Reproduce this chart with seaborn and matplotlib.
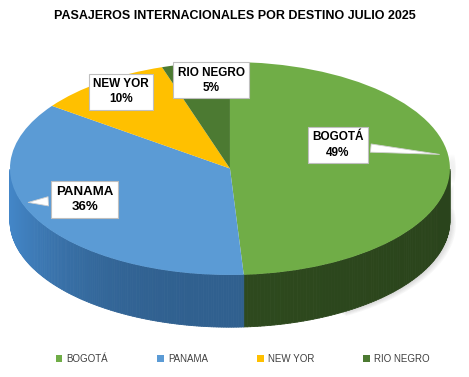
import numpy as np
import matplotlib
matplotlib.use("Agg")
import matplotlib.pyplot as plt
import seaborn as sns
from matplotlib.collections import PolyCollection
from matplotlib.patches import Patch

# data
destinos = ['BOGOTÁ', 'PANAMA', 'NEW YOR', 'RIO NEGRO']
porcentajes = [49, 36, 10, 5]
colores = ['#70AD47', '#5B9BD5', '#FFC000', '#4C7A32']
colores_lado = ['#2E4A1E', '#30608F', '#B38600', '#2C4A1C']
titulo = 'PASAJEROS INTERNACIONALES POR DESTINO JULIO 2025'

sns.set_theme(style='white')
plt.rcParams['font.family'] = ['Liberation Sans', 'DejaVu Sans']

fig = plt.figure(figsize=(4.69, 3.77), dpi=100)
# axes box = top face of the ellipse
ax = fig.add_axes([0.0213, 0.2706, 0.938, 0.565])

wedges, _ = ax.pie(porcentajes, colors=colores, startangle=90, counterclock=False,
                   radius=1, wedgeprops=dict(linewidth=0, zorder=3))
ax.set_aspect('auto')
ax.set_xlim(-1, 1)
ax.set_ylim(-1, 1)
ax.axis('off')

# side wall of the 3D pie
depth = 0.49
for w, lado in zip(wedges, colores_lado):
    t = np.radians(np.linspace(w.theta1, w.theta2, 200))
    t = t[np.sin(t) <= 0.0]
    if len(t) < 2:
        continue
    base = np.array(matplotlib.colors.to_rgb(lado))
    polys, fcs = [], []
    for a, b in zip(t[:-1], t[1:]):
        polys.append([(np.cos(a), np.sin(a)), (np.cos(b), np.sin(b)),
                      (np.cos(b), np.sin(b) - depth), (np.cos(a), np.sin(a) - depth)])
        m = (a + b) / 2
        luz = 1 + 0.4 * max(0, -np.cos(m)) ** 3 - 0.08 * max(0, np.cos(m))
        fcs.append(np.clip(base * luz, 0, 1))
    pc = PolyCollection(polys, facecolors=fcs, edgecolors=fcs, linewidths=0.6,
                        zorder=2, clip_on=False)
    ax.add_collection(pc)

# soft shadow on the right side
for k in range(5):
    s = np.radians(np.linspace(-60, 8, 80))
    off = 0.005 * (k + 1)
    ax.fill_between(np.cos(s) + off, np.sin(s) - depth - off, np.sin(s),
                    color='0.45', alpha=0.05, lw=0, zorder=1, clip_on=False)

# data labels
box = dict(boxstyle='square,pad=0.35', fc='white', ec='#BFBFBF', lw=0.8)
pos_texto = [(0.49, 0.22), (-0.66, -0.29), (-0.495, 0.72), (-0.086, 0.83)]
punta = [(0.965, 0.13), (-0.93, -0.32), None, None]
tam = [8.5, 9.5, 8.5, 8.5]
for d, p, xy, tip, fs in zip(destinos, porcentajes, pos_texto, punta, tam):
    txt = f'{d}\n{p}%'
    if tip is None:
        ax.text(xy[0], xy[1], txt, ha='center', va='center', fontsize=fs,
                fontweight='bold', color='#000000', bbox=box, zorder=6,
                linespacing=1.35)
    else:
        ax.annotate(txt, xy=tip, xytext=xy, ha='center', va='center', fontsize=fs,
                    fontweight='bold', color='#000000', bbox=box, zorder=6,
                    linespacing=1.35,
                    arrowprops=dict(arrowstyle='wedge,tail_width=0.7,shrink_factor=0.5',
                                    fc='white', ec='#D0D0D0', lw=0.6))

fig.text(0.5, 0.958, titulo, ha='center', va='center', fontsize=9,
         fontweight='bold', color='#000000')

handles = [Patch(facecolor=c, edgecolor='none') for c in colores]
fig.legend(handles, destinos, loc='center', bbox_to_anchor=(0.1, 0.027, 0.835, 0.04),
           mode='expand', ncol=4, frameon=False, fontsize=7, handlelength=0.7,
           handleheight=0.7, handletextpad=0.4, labelcolor='#404040')

fig.savefig('out.png', dpi=100, facecolor='white')
